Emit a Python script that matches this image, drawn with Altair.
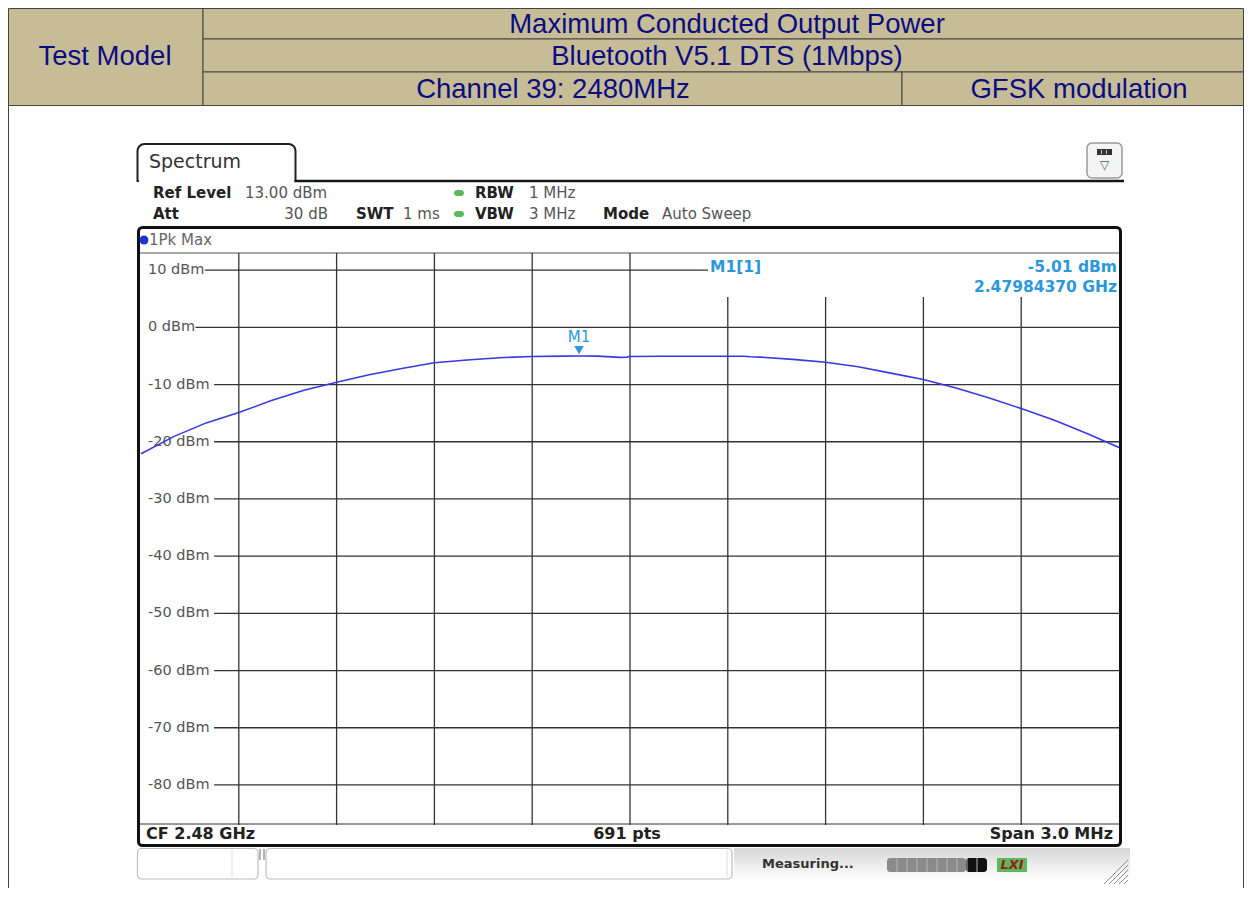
import altair as alt
import pandas as pd

# ---------------- data ----------------
freq_mhz = [2478.5, 2478.6, 2478.7, 2478.8, 2478.9, 2479.0, 2479.1, 2479.2, 2479.3, 2479.4,
            2479.5, 2479.6, 2479.7, 2479.8, 2479.8437, 2479.9, 2479.97, 2479.99, 2480.0, 2480.1,
            2480.2, 2480.3, 2480.35, 2480.37, 2480.4, 2480.5, 2480.6, 2480.7, 2480.8, 2480.9,
            2481.0, 2481.1, 2481.2, 2481.3, 2481.4, 2481.5]
level_dbm = [-22.1, -19.1, -16.7, -14.9, -12.8, -11.0, -9.6, -8.3, -7.2, -6.2,
             -5.7, -5.3, -5.1, -5.03, -5.01, -5.03, -5.25, -5.2, -5.1, -5.05,
             -5.05, -5.05, -5.05, -5.15, -5.2, -5.6, -6.1, -6.9, -8.0, -9.1,
             -10.6, -12.3, -14.2, -16.2, -18.5, -21.0]

grid_dbm = [10, 0, -10, -20, -30, -40, -50, -60, -70, -80]
grid_freq = [2478.8, 2479.1, 2479.4, 2479.7, 2480.0, 2480.3, 2480.6, 2480.9, 2481.2]

m1_freq = 2479.84370
m1_dbm = -5.01

header_title = ["Maximum Conducted Output Power", "Bluetooth V5.1 DTS (1Mbps)"]
header_left = "Test Model"
header_channel = "Channel 39: 2480MHz"
header_mod = "GFSK modulation"

info_bold = ["Ref Level", "RBW", "Att", "SWT", "VBW", "Mode"]
info_norm = ["13.00 dBm", "1 MHz", "30 dB", "1 ms", "3 MHz", "Auto Sweep"]
status_texts = ["CF 2.48 GHz", "691 pts", "Span 3.0 MHz"]

# ---------------- layout (page pixels) ----------------
X0, Y0, PW, PH = 141, 253, 978, 572
TOTAL_W, TOTAL_H = 1236, 880
RIGHT = 8 + TOTAL_W - 0.5
X_DOM = [2478.5, 2481.5]
Y_DOM = [-87, 13]
TAN = "#C6BD97"
NAVY = "#0C0C82"
BLUE_TXT = "#2A98DC"
TRACE = "#3838E6"
GRID = "#333333"
FI = "DejaVu Sans"
FT = "Liberation Sans"

xs = alt.Scale(domain=X_DOM, nice=False, zero=False)
ys = alt.Scale(domain=Y_DOM, nice=False, zero=False)


def px2f(px):
    return X_DOM[0] + (px - X0) / PW * (X_DOM[1] - X_DOM[0])


def py2d(py):
    return Y_DOM[1] - (py - Y0) / PH * (Y_DOM[1] - Y_DOM[0])


one = pd.DataFrame({"k": [0]})


def vx(px):
    return alt.value(px - X0)


def vy(py):
    return alt.value(py - Y0)


def box(x1, y1, x2, y2, **kw):
    return alt.Chart(one).mark_rect(**kw).encode(x=vx(x1), x2=vx(x2), y=vy(y1), y2=vy(y2))


def seg(x1, y1, x2, y2, **kw):
    return alt.Chart(one).mark_rule(**kw).encode(x=vx(x1), x2=vx(x2), y=vy(y1), y2=vy(y2))


def txt(t, x, y, **kw):
    kw.setdefault("baseline", "middle")
    return alt.Chart(one).mark_text(text=t, **kw).encode(x=vx(x), y=vy(y))


layers = []

# ---- header table ----
cell = dict(fill=TAN, stroke="#444", strokeWidth=1)
layers += [
    box(8.5, 8.5, 203, 105.5, **cell),
    box(203, 8.5, RIGHT, 39, **cell),
    box(203, 39, RIGHT, 72, **cell),
    box(203, 72, 902, 105.5, **cell),
    box(902, 72, RIGHT, 105.5, **cell),
    seg(8.5, 105.5, 8.5, 8 + TOTAL_H, color="#444", strokeWidth=1),
    seg(RIGHT, 105.5, RIGHT, 8 + TOTAL_H, color="#444", strokeWidth=1),
]
tkw = dict(font=FT, fontSize=27.5, color=NAVY, align="center")
layers += [
    txt(header_left, 105, 57, **tkw),
    txt(header_title[0], 727, 25, **tkw),
    txt(header_title[1], 727, 56.5, **tkw),
    txt(header_channel, 553, 89.5, **tkw),
    txt(header_mod, 1079, 89.5, **tkw),
]

# ---- instrument chrome ----
layers += [
    box(137.5, 144, 295.5, 181, fill="white", stroke="#222", strokeWidth=2,
        cornerRadiusTopLeft=7, cornerRadiusTopRight=7),
    seg(139, 181, 294.5, 181, color="white", strokeWidth=3),
    seg(294.5, 181, 1124, 181, color="#151515", strokeWidth=2.5),
    box(1087, 143, 1122, 178, fill="#f4f4f4", stroke="#9a9a9a", strokeWidth=1.5, cornerRadius=5),
    box(1097, 149, 1112, 155, fill="#333"),
    seg(1101.5, 150, 1101.5, 154, color="#ccc", strokeWidth=1),
    seg(1106.5, 150, 1106.5, 154, color="#ccc", strokeWidth=1),
    txt("▽", 1104.5, 165, font=FI, fontSize=12, color="#555", align="center"),
    txt("Spectrum", 149, 162, font=FI, fontSize=19, color="#333", align="left"),
]
bkw = dict(font=FI, fontSize=15, fontWeight="bold", color="#222", align="left")
nkw = dict(font=FI, fontSize=15, color="#555", align="left")
layers += [
    txt(info_bold[0], 153, 193, **bkw),
    txt(info_norm[0], 245, 193, **nkw),
    txt(info_bold[1], 475, 193, **bkw),
    txt(info_norm[1], 529, 193, **nkw),
    txt(info_bold[2], 153, 214, **bkw),
    txt(info_norm[2], 328, 214, **{**nkw, "align": "right"}),
    txt(info_bold[3], 356, 214, **bkw),
    txt(info_norm[3], 403, 214, **nkw),
    txt(info_bold[4], 475, 214, **bkw),
    txt(info_norm[4], 529, 214, **nkw),
    txt(info_bold[5], 603, 214, **bkw),
    txt(info_norm[5], 662, 214, **nkw),
    box(454, 190, 464, 196, fill="#5DB85D", cornerRadius=3),
    box(454, 211, 464, 217, fill="#5DB85D", cornerRadius=3),
]

# frame of the trace window
layers += [
    box(138.5, 227.5, 1120.5, 845.5, fill="white", stroke="#111", strokeWidth=3, cornerRadius=4),
    seg(140, 253, 1119, 253, color="#555", strokeWidth=1.2),
    seg(140, 824, 1119, 824, color="#333", strokeWidth=1.2),
    alt.Chart(one).mark_circle(size=80, color="#2233CC", opacity=1).encode(x=vx(144), y=vy(240)),
    txt("1Pk Max", 149, 240, font=FI, fontSize=15, color="#666", align="left"),
]

# ---- grid (through the scales) ----
hg = pd.DataFrame({"dbm": grid_dbm})
hg["label"] = hg["dbm"].astype(str) + " dBm"
hg["fs"] = [px2f(148 + 9.3 * len(s) + 1) for s in hg["label"]]
hg["fe"] = [px2f(708) if d == grid_dbm[0] else X_DOM[1] for d in hg["dbm"]]

vg = pd.DataFrame({"f": grid_freq})
vg["top"] = [py2d(297) if f > 2480.1 else Y_DOM[1] for f in vg["f"]]
vg["bot"] = Y_DOM[0]

layers += [
    alt.Chart(vg).mark_rule(color=GRID, strokeWidth=1.3).encode(
        x=alt.X("f:Q", scale=xs, axis=None),
        y=alt.Y("top:Q", scale=ys, axis=None),
        y2="bot:Q"),
    alt.Chart(hg).mark_rule(color=GRID, strokeWidth=1.3).encode(
        x=alt.X("fs:Q", scale=xs, axis=None), x2="fe:Q",
        y=alt.Y("dbm:Q", scale=ys, axis=None)),
    alt.Chart(hg).mark_text(font=FI, fontSize=14.5, color="#555", align="left", baseline="middle").encode(
        x=alt.value(148 - X0),
        y=alt.Y("dbm:Q", scale=ys, axis=None),
        text="label:N"),
]

# ---- trace ----
tr = pd.DataFrame({"f": freq_mhz, "dbm": level_dbm})
layers.append(
    alt.Chart(tr).mark_line(color=TRACE, strokeWidth=1.6).encode(
        x=alt.X("f:Q", scale=xs, axis=None),
        y=alt.Y("dbm:Q", scale=ys, axis=None))
)

# ---- marker ----
mk = pd.DataFrame({"f": [m1_freq], "dbm": [m1_dbm], "name": ["M1"]})
layers += [
    alt.Chart(mk).mark_point(shape="triangle-down", filled=True, size=90, color=BLUE_TXT,
                             opacity=1, yOffset=-6).encode(
        x=alt.X("f:Q", scale=xs, axis=None), y=alt.Y("dbm:Q", scale=ys, axis=None)),
    alt.Chart(mk).mark_text(font=FI, fontSize=15, color=BLUE_TXT, dy=-19, baseline="middle").encode(
        x=alt.X("f:Q", scale=xs, axis=None), y=alt.Y("dbm:Q", scale=ys, axis=None), text="name:N"),
]
mkw = dict(font=FI, fontSize=15.5, fontWeight="bold", color=BLUE_TXT)
layers += [
    txt("M1[1]", 710, 267, align="left", **mkw),
    txt(f"{m1_dbm:.2f} dBm", 1117, 267, align="right", **mkw),
    txt(f"{m1_freq / 1000:.8f} GHz", 1117, 287, align="right", **mkw),
]

# ---- status bar ----
skw = dict(font=FI, fontSize=16, fontWeight="bold", color="#222")
layers += [
    txt(status_texts[0], 146, 834, align="left", **skw),
    txt(status_texts[1], 627, 834, align="center", **skw),
    txt(status_texts[2], 1113, 834, align="right", **skw),
]

# ---- bottom toolbar ----
grad = alt.Gradient(gradient="linear", x1=0, x2=0, y1=0, y2=1,
                    stops=[alt.GradientStop(color="#d6d6d6", offset=0),
                           alt.GradientStop(color="#ffffff", offset=1)])
layers += [
    box(734, 848, 1130, 880, color=grad),
    box(137.5, 848.5, 258, 879, fill="white", stroke="#bdbdbd", strokeWidth=1.2, cornerRadius=4),
    seg(232, 850, 232, 877, color="#dddddd", strokeWidth=1),
    seg(260, 849, 260, 860, color="#999", strokeWidth=1.5),
    seg(264, 849, 264, 860, color="#999", strokeWidth=1.5),
    box(266, 848.5, 732, 879, fill="white", stroke="#bdbdbd", strokeWidth=1.2, cornerRadius=4),
    seg(727, 850, 727, 877, color="#dddddd", strokeWidth=1),
    txt("Measuring...", 762, 864, font=FI, fontSize=13, fontWeight="bold", color="#333", align="left"),
    box(887, 858, 966, 872, fill="#8a8a8a", cornerRadius=3),
    box(966, 858, 987, 872, fill="#111", cornerRadius=3),
]
for k in range(1, 10):
    layers.append(seg(887 + 10 * k, 858, 887 + 10 * k, 872, color="#b5b5b5", strokeWidth=1))
layers += [
    box(997, 858, 1027, 872, fill="#5CB85C"),
    txt("LXI", 1012, 865, font=FI, fontSize=13, fontWeight="bold", fontStyle="italic",
        color="#A01818", align="center"),
]
for k in range(5):
    layers.append(seg(1104 + 5 * k, 884, 1128, 860 + 5 * k, color="#8c8c8c", strokeWidth=1))

chart = alt.layer(*layers).properties(
    width=PW, height=PH,
    padding={"left": X0 - 8, "top": Y0 - 8,
             "right": TOTAL_W - (X0 - 8) - PW, "bottom": TOTAL_H - (Y0 - 8) - PH},
    autosize=alt.AutoSizeParams(type="none"),
    background="white",
).configure_view(strokeWidth=0)

chart.save("out.html", embed_options={"renderer": "svg", "actions": False})
